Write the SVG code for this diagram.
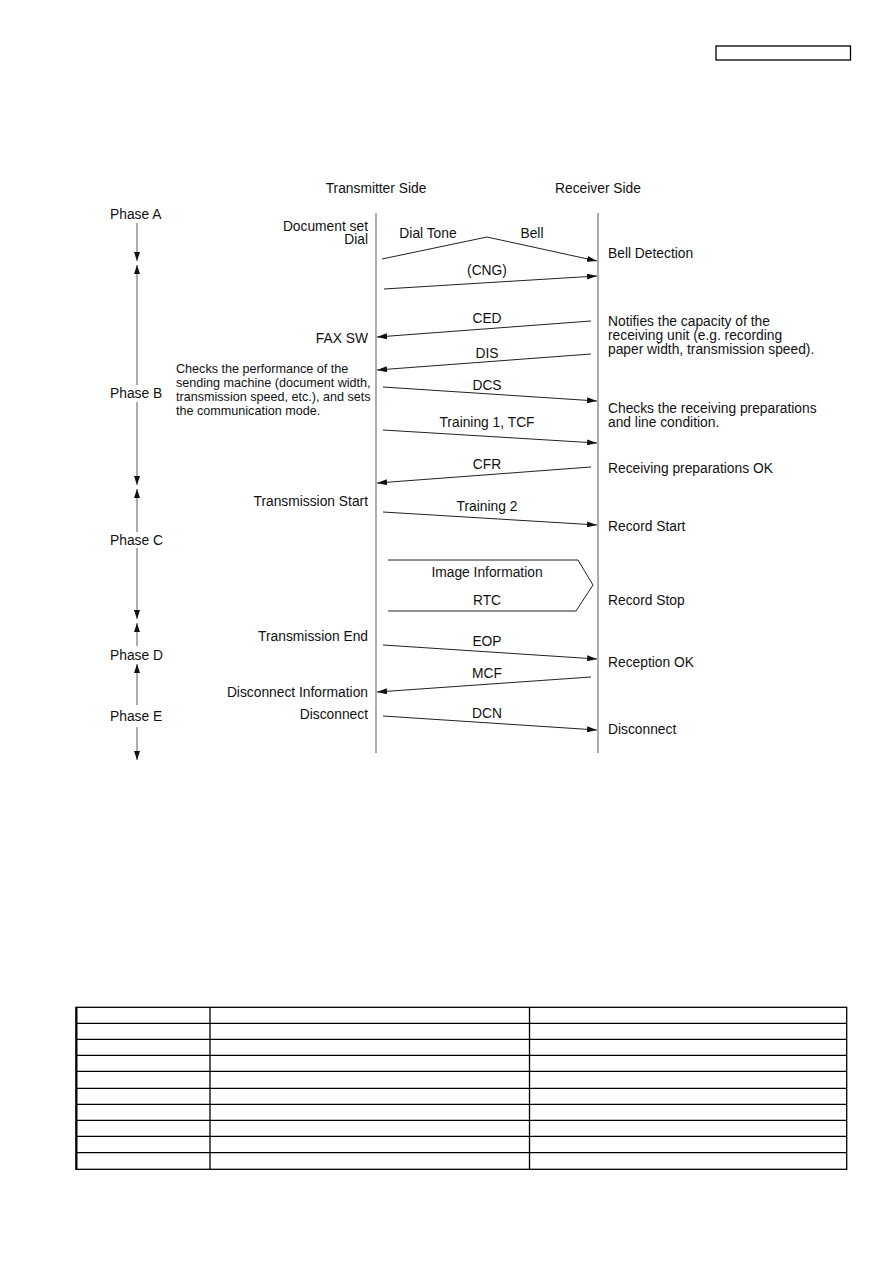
<svg xmlns="http://www.w3.org/2000/svg" width="893" height="1263" viewBox="0 0 893 1263">
<style>
text{font-family:"Liberation Sans",Arial,sans-serif;font-size:13.8px;fill:#111}
.r{text-anchor:end}.m{text-anchor:middle}
.sm{font-size:12.6px}
.life{stroke:#999;stroke-width:1.6;fill:none}
.ph{stroke:#999;stroke-width:1.6;fill:none}
.msg{stroke:#222;stroke-width:1;fill:none}
.tb{stroke:#000;stroke-width:1.3;fill:none}
</style>
<defs>
<marker id="ah" viewBox="0 0 10 6" refX="10" refY="3" markerWidth="10" markerHeight="6" markerUnits="userSpaceOnUse" orient="auto">
<path d="M0,0 L10,3 L0,6 Z" fill="#111"/>
</marker>
<marker id="pa" viewBox="0 0 9 6" refX="9" refY="3" markerWidth="9" markerHeight="6" markerUnits="userSpaceOnUse" orient="auto">
<path d="M0,0 L9,3 L0,6 Z" fill="#111"/>
</marker>
</defs>
<rect x="716" y="46" width="134.5" height="14" fill="none" stroke="#000" stroke-width="1.3"/>
<g id="headers">
<text x="376" y="193" class="m">Transmitter Side</text>
<text x="598" y="193" class="m">Receiver Side</text>
</g>
<g id="lifelines">
<line class="life" x1="376" y1="213" x2="376" y2="753"/>
<line class="life" x1="598" y1="213" x2="598" y2="753"/>
</g>
<g id="phases">
<text x="110" y="219">Phase A</text>
<text x="110" y="398">Phase B</text>
<text x="110" y="545">Phase C</text>
<text x="110" y="660">Phase D</text>
<text x="110" y="721">Phase E</text>
<g>
<line class="ph" x1="137" y1="223" x2="137" y2="261" marker-end="url(#pa)"/>
<line class="ph" x1="137" y1="385" x2="137" y2="265" marker-end="url(#pa)"/>
<line class="ph" x1="137" y1="402" x2="137" y2="485" marker-end="url(#pa)"/>
<line class="ph" x1="137" y1="532" x2="137" y2="489" marker-end="url(#pa)"/>
<line class="ph" x1="137" y1="548" x2="137" y2="619" marker-end="url(#pa)"/>
<line class="ph" x1="137" y1="646" x2="137" y2="623" marker-end="url(#pa)"/>
<line class="ph" x1="137" y1="705" x2="137" y2="664" marker-end="url(#pa)"/>
<line class="ph" x1="137" y1="727" x2="137" y2="760" marker-end="url(#pa)"/>
</g>
</g>
<g id="connectors">
<polyline class="msg" points="382,259 487,237 597,261" marker-end="url(#ah)"/>
<line class="msg" x1="384" y1="289" x2="597" y2="276" marker-end="url(#ah)"/>
<line class="msg" x1="591" y1="321" x2="377" y2="337" marker-end="url(#ah)"/>
<line class="msg" x1="591" y1="354" x2="377" y2="370" marker-end="url(#ah)"/>
<line class="msg" x1="383" y1="387" x2="597" y2="401" marker-end="url(#ah)"/>
<line class="msg" x1="383" y1="430" x2="597" y2="443" marker-end="url(#ah)"/>
<line class="msg" x1="591" y1="467" x2="377" y2="483" marker-end="url(#ah)"/>
<line class="msg" x1="383" y1="512" x2="597" y2="525" marker-end="url(#ah)"/>
<polyline class="msg" points="388,560 578,560 593,585 576,611 388,611"/>
<line class="msg" x1="383" y1="645" x2="597" y2="659" marker-end="url(#ah)"/>
<line class="msg" x1="591" y1="677" x2="377" y2="692" marker-end="url(#ah)"/>
<line class="msg" x1="383" y1="716" x2="597" y2="730" marker-end="url(#ah)"/>
</g>
<g id="msg-labels">
<text x="428" y="238" class="m">Dial Tone</text>
<text x="532" y="238" class="m">Bell</text>
<text x="487" y="275" class="m">(CNG)</text>
<text x="487" y="323" class="m">CED</text>
<text x="487" y="358" class="m">DIS</text>
<text x="487" y="390" class="m">DCS</text>
<text x="487" y="427" class="m">Training 1, TCF</text>
<text x="487" y="469" class="m">CFR</text>
<text x="487" y="511" class="m">Training 2</text>
<text x="487" y="577" class="m">Image Information</text>
<text x="487" y="605" class="m">RTC</text>
<text x="487" y="646" class="m">EOP</text>
<text x="487" y="678" class="m">MCF</text>
<text x="487" y="718" class="m">DCN</text>
</g>
<g id="transmitter-notes">
<text x="368" y="231" class="r">Document set</text>
<text x="368" y="244" class="r">Dial</text>
<text x="368" y="343" class="r">FAX SW</text>
<text x="176" y="373" class="sm">Checks the performance of the</text>
<text x="176" y="387" class="sm">sending machine (document width,</text>
<text x="176" y="401" class="sm">transmission speed, etc.), and sets</text>
<text x="176" y="415" class="sm">the communication mode.</text>
<text x="368" y="506" class="r">Transmission Start</text>
<text x="368" y="641" class="r">Transmission End</text>
<text x="368" y="697" class="r">Disconnect Information</text>
<text x="368" y="719" class="r">Disconnect</text>
</g>
<g id="receiver-notes">
<text x="608" y="258">Bell Detection</text>
<text x="608" y="326">Notifies the capacity of the</text>
<text x="608" y="340">receiving unit (e.g. recording</text>
<text x="608" y="354">paper width, transmission speed).</text>
<text x="608" y="413">Checks the receiving preparations</text>
<text x="608" y="427">and line condition.</text>
<text x="608" y="473">Receiving preparations OK</text>
<text x="608" y="531">Record Start</text>
<text x="608" y="605">Record Stop</text>
<text x="608" y="667">Reception OK</text>
<text x="608" y="734">Disconnect</text>
</g>
<g id="table">
<rect class="tb" x="76" y="1007.3" width="770.7" height="162"/>
<line x1="76.5" y1="1007" x2="76.5" y2="1170" stroke="#000" stroke-width="2"/>
<line class="tb" x1="210" y1="1007.3" x2="210" y2="1169.3"/>
<line class="tb" x1="529.5" y1="1007.3" x2="529.5" y2="1169.3"/>
<path class="tb" d="M76,1023.3H847M76,1039.3H847M76,1055.3H847M76,1071.3H847M76,1088.3H847M76,1104.3H847M76,1120.3H847M76,1136.3H847M76,1152.7H847"/>
</g>
</svg>
